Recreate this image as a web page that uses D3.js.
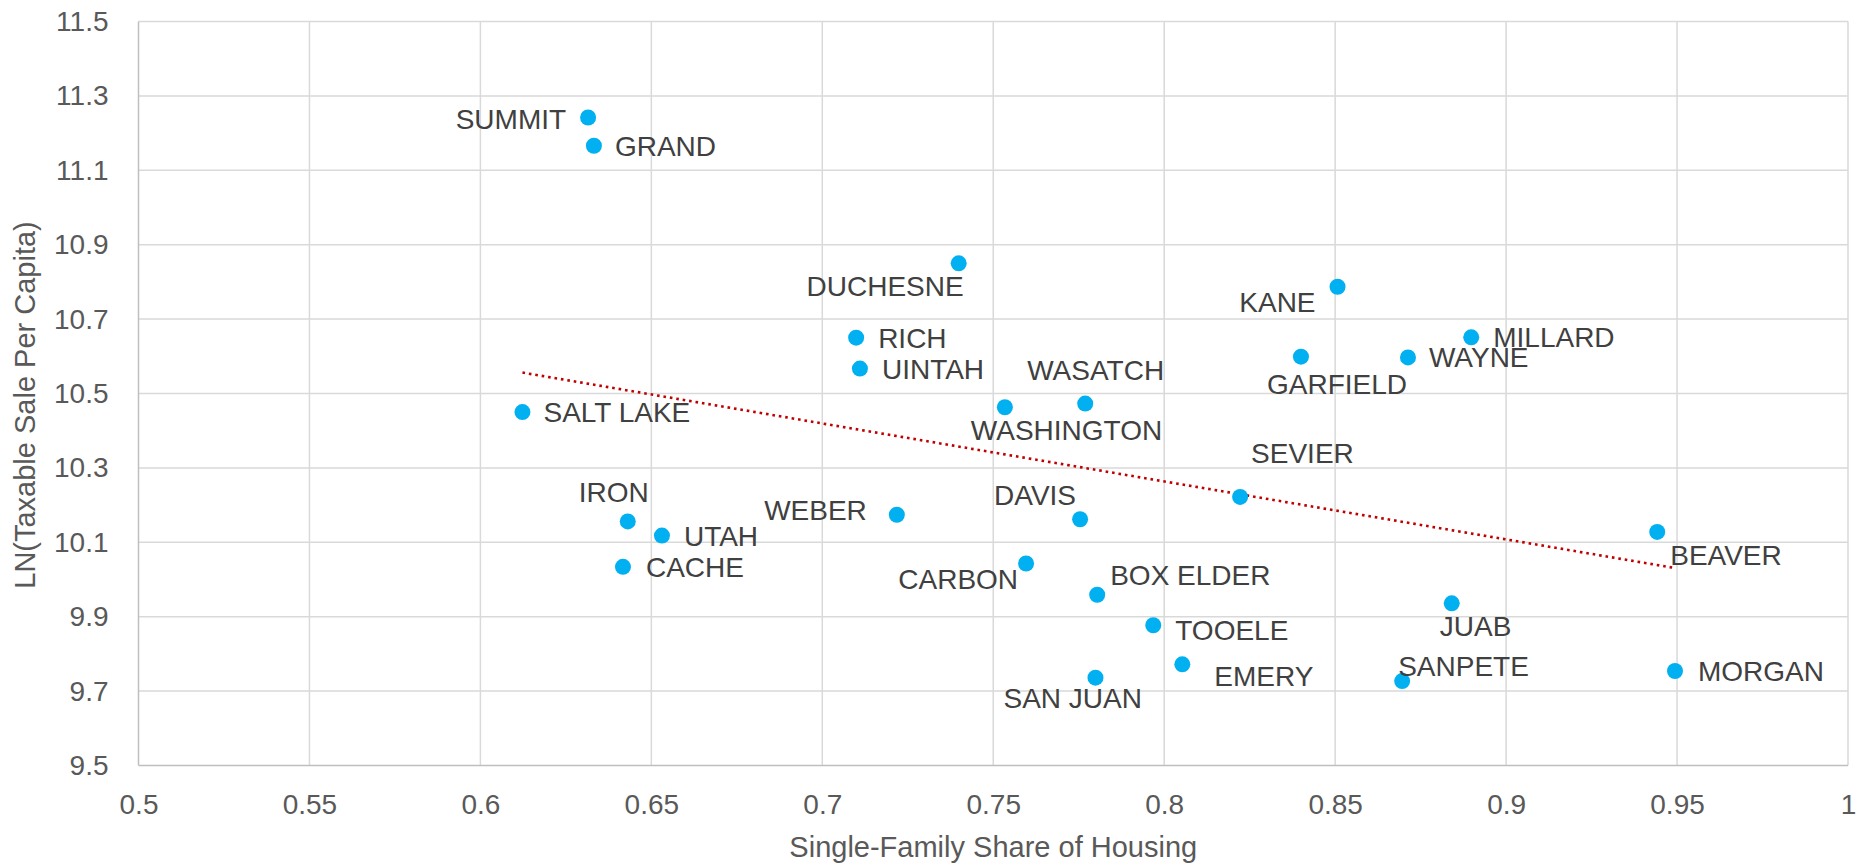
<!DOCTYPE html>
<html>
<head>
<meta charset="utf-8">
<script src="https://cdn.jsdelivr.net/npm/d3@7"></script>
<style>
  body { margin: 0; background: #fff; }
  svg { display: block; font-family: "Liberation Sans", Arial, sans-serif; }
</style>
</head>
<body>
<div class="container"></div>
<script>
// county data
var counties = ['SUMMIT','GRAND','DUCHESNE','KANE','RICH','MILLARD','UINTAH','GARFIELD','WAYNE',
	'WASATCH','WASHINGTON','SALT LAKE','SEVIER','IRON','WEBER','DAVIS','BEAVER','UTAH','CACHE',
	'CARBON','BOX ELDER','JUAB','TOOELE','EMERY','SAN JUAN','SANPETE','MORGAN'];
var sfShare = [0.6315,0.6332,0.7399,0.8507,0.7099,0.8898,0.7110,0.8400,0.8713,
	0.7769,0.7534,0.6123,0.8222,0.6431,0.7218,0.7754,0.9442,0.6531,0.6417,
	0.7596,0.7804,0.8841,0.7968,0.8053,0.7799,0.8696,0.9494];
var lnSales = [11.242,11.166,10.850,10.787,10.650,10.651,10.567,10.599,10.597,
	10.473,10.463,10.450,10.222,10.156,10.174,10.162,10.128,10.118,10.034,
	10.043,9.959,9.936,9.877,9.772,9.736,9.727,9.754];
var xTicks = [0.5,0.55,0.6,0.65,0.7,0.75,0.8,0.85,0.9,0.95,1];
var yTicks = [9.5,9.7,9.9,10.1,10.3,10.5,10.7,10.9,11.1,11.3,11.5];

// label placement: [dx, dy, anchor] relative to each point
var labelPos = {
	'SUMMIT':[-22,1,'end'], 'GRAND':[21,0,'start'], 'DUCHESNE':[5,23,'end'], 'KANE':[-22,15,'end'],
	'RICH':[22,0,'start'], 'MILLARD':[22,0,'start'], 'UINTAH':[22,0,'start'], 'GARFIELD':[-34,27,'start'],
	'WAYNE':[21,0,'start'], 'WASATCH':[-58,-34,'start'], 'WASHINGTON':[-34,23,'start'],
	'SALT LAKE':[21,0,'start'], 'SEVIER':[11,-44,'start'], 'IRON':[-49,-30,'start'],
	'WEBER':[-30,-5,'end'], 'DAVIS':[-86,-24,'start'], 'BEAVER':[13,23,'start'], 'UTAH':[22,0,'start'],
	'CACHE':[23,0,'start'], 'CARBON':[-8,15,'end'], 'BOX ELDER':[13,-20,'start'], 'JUAB':[-12,23,'start'],
	'TOOELE':[22,5,'start'], 'EMERY':[32,12,'start'], 'SAN JUAN':[-92,20,'start'],
	'SANPETE':[-4,-15,'start'], 'MORGAN':[23,0,'start']
};

var WIDTH = 1866, HEIGHT = 867;
var LEFT = 138.5, RIGHT = 1848, TOP = 21.5, BOTTOM = 765.5;

var data = counties.map(function(c, i){ return {name: c, x: sfShare[i], y: lnSales[i]}; });

var xScale = d3.scaleLinear().domain([0.5, 1]).range([LEFT, RIGHT]);
var yScale = d3.scaleLinear().domain([9.5, 11.5]).range([BOTTOM, TOP]);

var svg = d3.select('.container').append('svg')
	.attr('width', WIDTH)
	.attr('height', HEIGHT);

// gridlines
svg.append('g').selectAll('line').data(xTicks.slice(1)).enter().append('line')
	.attr('x1', function(d){ return xScale(d); }).attr('x2', function(d){ return xScale(d); })
	.attr('y1', TOP).attr('y2', BOTTOM)
	.attr('stroke', '#d9d9d9').attr('stroke-width', 1.5);
svg.append('g').selectAll('line').data(yTicks.slice(1)).enter().append('line')
	.attr('x1', LEFT).attr('x2', RIGHT)
	.attr('y1', function(d){ return yScale(d); }).attr('y2', function(d){ return yScale(d); })
	.attr('stroke', '#d9d9d9').attr('stroke-width', 1.5);

// axis lines
svg.append('line').attr('x1', LEFT).attr('x2', LEFT).attr('y1', TOP).attr('y2', BOTTOM)
	.attr('stroke', '#bfbfbf').attr('stroke-width', 1.5);
svg.append('line').attr('x1', LEFT).attr('x2', RIGHT).attr('y1', BOTTOM).attr('y2', BOTTOM)
	.attr('stroke', '#bfbfbf').attr('stroke-width', 1.5);

var xAxis = d3.axisBottom(xScale).tickValues(xTicks).tickSize(0).tickPadding(29)
	.tickFormat(function(d){ return String(+d.toFixed(2)); });
var yAxis = d3.axisLeft(yScale).tickValues(yTicks).tickSize(0).tickPadding(30)
	.tickFormat(d3.format('.1f'));

var gx = svg.append('g').attr('transform', 'translate(0,' + BOTTOM + ')').call(xAxis);
var gy = svg.append('g').attr('transform', 'translate(' + LEFT + ',0)').call(yAxis);
[gx, gy].forEach(function(g){
	g.select('.domain').remove();
	g.selectAll('text').attr('fill', '#595959').style('font-size', '28px')
		.style('font-family', '"Liberation Sans", Arial, sans-serif');
});

// axis titles
svg.append('text')
	.attr('x', (LEFT + RIGHT) / 2).attr('y', 857)
	.attr('text-anchor', 'middle').attr('fill', '#595959').style('font-size', '29px')
	.text('Single-Family Share of Housing');
svg.append('text')
	.attr('transform', 'translate(35,' + 405 + ') rotate(-90)')
	.attr('text-anchor', 'middle').attr('fill', '#595959').style('font-size', '29px')
	.text('LN(Taxable Sale Per Capita)');

// linear trendline (least squares)
var mx = d3.mean(sfShare), my = d3.mean(lnSales);
var sxy = d3.sum(sfShare, function(v, i){ return (v - mx) * (lnSales[i] - my); });
var sxx = d3.sum(sfShare, function(v){ return (v - mx) * (v - mx); });
var slope = sxy / sxx, intercept = my - slope * mx;
var xExt = d3.extent(sfShare);

var trend = d3.line()
	.x(function(d){ return xScale(d); })
	.y(function(d){ return yScale(intercept + slope * d); });

svg.append('path')
	.datum(xExt)
	.attr('d', trend)
	.attr('fill', 'none')
	.attr('stroke', '#c00000')
	.attr('stroke-width', 2.6)
	.attr('stroke-dasharray', '2.6,3.9');

// points
svg.append('g').selectAll('circle').data(data).enter().append('circle')
	.attr('cx', function(d){ return xScale(d.x); })
	.attr('cy', function(d){ return yScale(d.y); })
	.attr('r', 8)
	.attr('fill', '#00b0f0');

// data labels
svg.append('g').selectAll('text').data(data).enter().append('text')
	.attr('x', function(d){ return xScale(d.x) + labelPos[d.name][0]; })
	.attr('y', function(d){ return yScale(d.y) + labelPos[d.name][1]; })
	.attr('dy', '0.36em')
	.attr('text-anchor', function(d){ return labelPos[d.name][2]; })
	.attr('fill', '#404040')
	.style('font-size', '28px')
	.text(function(d){ return d.name; });
</script>
</body>
</html>
